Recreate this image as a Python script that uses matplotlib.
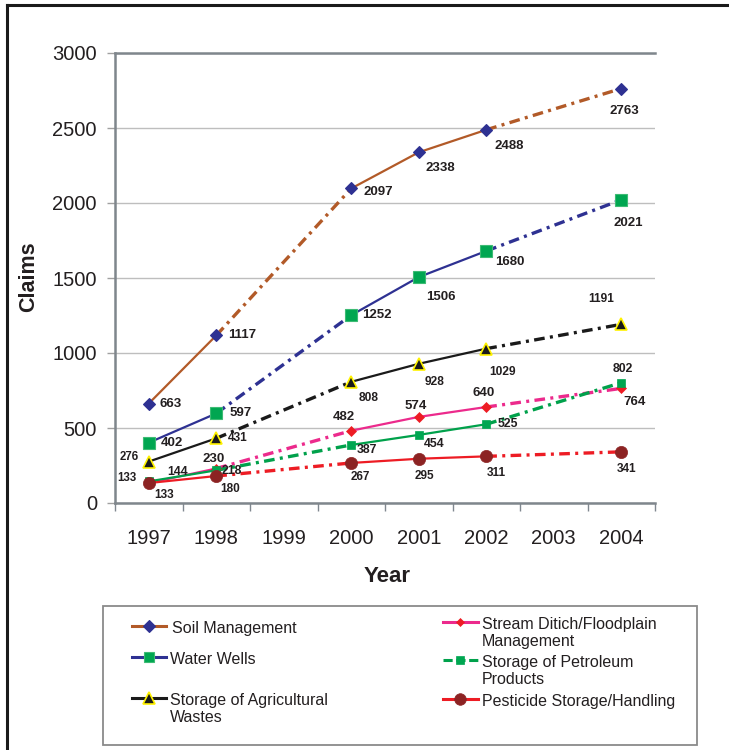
import matplotlib
matplotlib.use("Agg")
import matplotlib.pyplot as plt
from matplotlib.lines import Line2D
from matplotlib.patches import Rectangle

plt.rcParams['font.family'] = ['Liberation Sans', 'DejaVu Sans']

# ---------------- data ----------------
categories = ['1997', '1998', '1999', '2000', '2001', '2002', '2003', '2004']
years = ['1997', '1998', '2000', '2001', '2002', '2004']

series_names = [
    'Soil Management',
    'Water Wells',
    'Storage of Agricultural\nWastes',
    'Stream Ditich/Floodplain\nManagement',
    'Storage of Petroleum\nProducts',
    'Pesticide Storage/Handling',
]
soil_management = [663, 1117, 2097, 2338, 2488, 2763]
water_wells = [402, 597, 1252, 1506, 1680, 2021]
agricultural_wastes = [276, 431, 808, 928, 1029, 1191]
stream_ditch = [133, 230, 482, 574, 640, 764]
petroleum_products = [144, 218, 387, 454, 525, 802]
pesticide_storage = [133, 180, 267, 295, 311, 341]
series_values = [soil_management, water_wells, agricultural_wastes,
                 stream_ditch, petroleum_products, pesticide_storage]

y_ticks = [0, 500, 1000, 1500, 2000, 2500, 3000]

# ---------------- styles ----------------
styles = [
    dict(line='#B25A28', marker='D', ms=6.3, mfc='#2E3192', mec='#2E3192', mew=0.8, fs=9.5, legdash=None),
    dict(line='#2E3192', marker='s', ms=8.0, mfc='#00A651', mec='#3DBB74', mew=0.8, fs=9.5, legdash=None),
    dict(line='#1A1A1A', marker='^', ms=9.0, mfc='#1A1A1A', mec='#FFF200', mew=1.2, fs=8.6, legdash=None),
    dict(line='#EC2A8C', marker='D', ms=4.6, mfc='#ED1C24', mec='#ED1C24', mew=0.5, fs=9.5, legdash=None),
    dict(line='#00A14B', marker='s', ms=6.2, mfc='#00A651', mec='#00A651', mew=0.5, fs=8.8, legdash=(3, 1.2)),
    dict(line='#ED1C24', marker='o', ms=8.8, mfc='#8C2323', mec='#8C2323', mew=0.5, fs=8.5, legdash=None),
]
# label offsets in pixels (dx right, dy down)
label_offsets = [
    [(22, 0), (26, 0), (27, 4), (22, 16), (23, 16), (3, 22)],
    [(23, 0), (24, 0), (26, 0), (22, 20), (24, 11), (7, 23)],
    [(-19, -5), (21, 0), (17, 16), (16, 18), (16, 23), (-20, -25)],
    [(-22, -5), (-3, -9), (-7, -14), (-3, -11), (-3, -14), (13, 14)],
    [(29, -9), (16, 1), (16, 5), (15, 9), (22, 0), (2, -14)],
    [(15, 12), (14, 13), (9, 14), (6, 17), (10, 17), (5, 17)],
]
small_labels = {(2, 0): 8.3, (3, 0): 8.3}

W, H = 729, 750
fig = plt.figure(figsize=(W / 100, H / 100), dpi=100)
fig.patch.set_facecolor('white')

def fx(px):
    return px / W

def fy(py):
    return 1 - py / H

ax = fig.add_axes([fx(115), fy(503), fx(655) - fx(115), fy(53) - fy(503)])

xpos = [categories.index(y) for y in years]
dashdot = (3.2, 1.6, 0.9, 1.6)

for i, (vals, st) in enumerate(zip(series_values, styles)):
    for k in range(len(vals) - 1):
        x0, x1 = xpos[k], xpos[k + 1]
        if x1 - x0 == 1:
            ax.plot([x0, x1], [vals[k], vals[k + 1]], color=st['line'], lw=1.6,
                    solid_capstyle='butt', zorder=2 + i * 0.1)
        else:
            ax.plot([x0, x1], [vals[k], vals[k + 1]], color=st['line'], lw=2.4,
                    dashes=dashdot, dash_capstyle='butt', zorder=2 + i * 0.1)
for i, (vals, st) in enumerate(zip(series_values, styles)):
    ax.plot(xpos, vals, linestyle='none', marker=st['marker'], ms=st['ms'],
            mfc=st['mfc'], mec=st['mec'], mew=st['mew'], zorder=4 + i * 0.1)
    for k, v in enumerate(vals):
        dx, dy = label_offsets[i][k]
        fs = small_labels.get((i, k), st['fs'])
        ax.annotate(str(v), (xpos[k], v), xytext=(dx * 0.72, -dy * 0.72),
                    textcoords='offset points', ha='center', va='center',
                    fontsize=fs, fontweight='bold', color='#231F20', zorder=6)

# axes styling
ax.set_xlim(-0.5, len(categories) - 0.5)
ax.set_ylim(0, 3000)
ax.set_yticks(y_ticks)
ax.set_yticklabels([str(t) for t in y_ticks])
ax.yaxis.grid(True, color='#BEBEBE', lw=1.0)
ax.set_axisbelow(True)
ax.set_xticks([c - 0.5 for c in range(len(categories) + 1)])
ax.set_xticklabels([])
ax.set_xticks(range(len(categories)), minor=True)
ax.set_xticklabels(categories, minor=True)
ax.tick_params(axis='x', which='major', length=6, width=1.0, color='#808890', direction='out')
ax.tick_params(axis='x', which='minor', length=0, pad=19, labelsize=14.5, labelcolor='#231F20')
ax.tick_params(axis='y', length=6, width=1.0, color='#A0A0A0', pad=7, labelsize=14.5, labelcolor='#231F20')
for side in ['left', 'top', 'bottom']:
    ax.spines[side].set_color('#7F868C')
    ax.spines[side].set_linewidth(1.8)
ax.spines['right'].set_visible(False)

ax.set_xlabel('Year', fontsize=16, fontweight='bold', color='#231F20')
ax.set_ylabel('Claims', fontsize=15.5, fontweight='bold', color='#231F20')
ax.xaxis.label.set_va('center')
ax.xaxis.set_label_coords((387 - 115) / 540, -(577 - 503) / 450)
ax.yaxis.label.set_va('center')
ax.yaxis.set_label_coords((29 - 115) / 540, (503 - 277) / 450)

# figure border (top and left)
fig.add_artist(Line2D([fx(7), 1.0], [fy(5), fy(5)], color='#1A1A1A', lw=2.2))
fig.add_artist(Line2D([fx(7), fx(7)], [fy(5), 0.0], color='#1A1A1A', lw=2.2))

# legend box
fig.add_artist(Rectangle((fx(103), fy(745)), fx(697) - fx(103), fy(606) - fy(745),
                         facecolor='white', edgecolor='#8A8A8A', lw=1.3))
legend_pos = [
    (132, 166, 626, 172),
    (132, 166, 657, 170),
    (132, 166, 698, 170),
    (443, 478, 622, 482),
    (443, 478, 660, 482),
    (443, 478, 699, 482),
]
for name, st, (hx0, hx1, hy, tx) in zip(series_names, styles, legend_pos):
    kw = dict(color=st['line'], lw=2.2)
    if st['legdash']:
        kw['dashes'] = st['legdash']
    fig.add_artist(Line2D([fx(hx0), fx(hx1)], [fy(hy), fy(hy)], **kw))
    fig.add_artist(Line2D([fx((hx0 + hx1) / 2)], [fy(hy)], linestyle='none',
                          marker=st['marker'], ms=st['ms'] * 0.95, mfc=st['mfc'],
                          mec=st['mec'], mew=st['mew']))
    fig.text(fx(tx), fy(hy - 5), name, ha='left', va='top', fontsize=11.5,
             color='#231F20', linespacing=1.15)

fig.savefig('out.png', dpi=100)
